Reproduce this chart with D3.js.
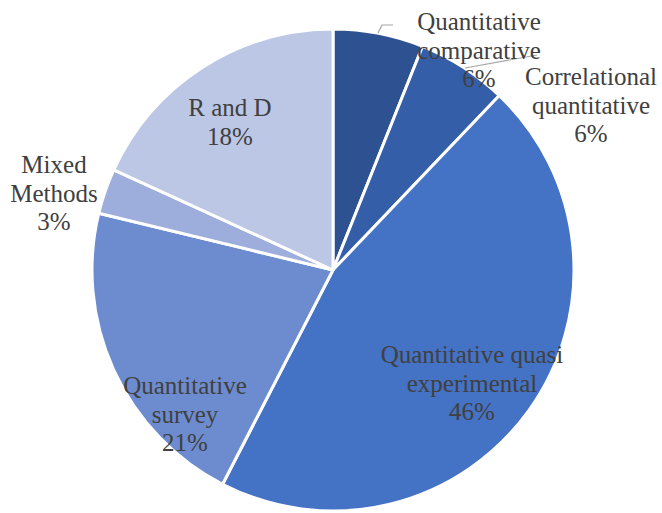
<!DOCTYPE html>
<html>
<head>
<meta charset="utf-8">
<script src="https://cdn.jsdelivr.net/npm/d3@7"></script>
<style>
  body { margin: 0; background: #fff; }
</style>
</head>
<body>
<script>
const width = 662
const height = 513

// data (slice shares estimated from the angles)
const categories = ['Quantitative comparative', 'Correlational quantitative', 'Quantitative quasi experimental',
  'Quantitative survey', 'Mixed Methods', 'R and D']
const values = [6.06, 6.06, 45.45, 21.21, 3.03, 18.18]
const percentLabels = ['6%', '6%', '46%', '21%', '3%', '18%']
const colors = ['#2e5291', '#355ea9', '#4472c4', '#6d8ccf', '#9daedc', '#bcc6e5']

// how the names wrap in the picture
const nameLines = [
  ['Quantitative', 'comparative'],
  ['Correlational', 'quantitative'],
  ['Quantitative quasi', 'experimental'],
  ['Quantitative', 'survey'],
  ['Mixed', 'Methods'],
  ['R and D']
]
// label centre (first baseline) for each slice
const labelPos = [[479, 30], [591, 85], [472, 363], [185, 394], [54, 173], [230, 116]]
const lineGap = 28.5

const cx = 333, cy = 270, r = 241

const svg = d3.select('body').append('svg')
    .attr('width', width)
    .attr('height', height)

const pie = d3.pie().sort(null).value(d => d)
const arc = d3.arc().innerRadius(0).outerRadius(r)

const g = svg.append('g').attr('transform', `translate(${cx},${cy})`)

g.selectAll('path')
    .data(pie(values))
    .join('path')
    .attr('d', arc)
    .style('fill', (d, i) => colors[i])
    .style('stroke', '#fff')
    .style('stroke-width', 3)
    .style('stroke-linejoin', 'round')

// leader lines
svg.append('path')
    .attr('d', 'M378,33 L382,25 L393,25')
    .style('fill', 'none')
    .style('stroke', '#a6a6a6')
    .style('stroke-width', 1.2)

svg.append('line')
    .attr('x1', 465).attr('y1', 68)
    .attr('x2', 537).attr('y2', 55)
    .style('stroke', '#a6a6a6')
    .style('stroke-width', 1.2)

const labels = svg.selectAll('text.lbl')
    .data(categories)
    .join('text')
    .attr('class', 'lbl')
    .attr('text-anchor', 'middle')
    .style('font-family', '"Liberation Serif"')
    .style('font-size', '25px')
    .style('fill', '#404040')

labels.each(function(c, i) {
  const t = d3.select(this)
  const lines = nameLines[i].concat([percentLabels[i]])
  lines.forEach((s, j) => {
    t.append('tspan')
      .attr('x', labelPos[i][0])
      .attr('y', labelPos[i][1] + j * lineGap)
      .text(s)
  })
})
</script>
</body>
</html>
